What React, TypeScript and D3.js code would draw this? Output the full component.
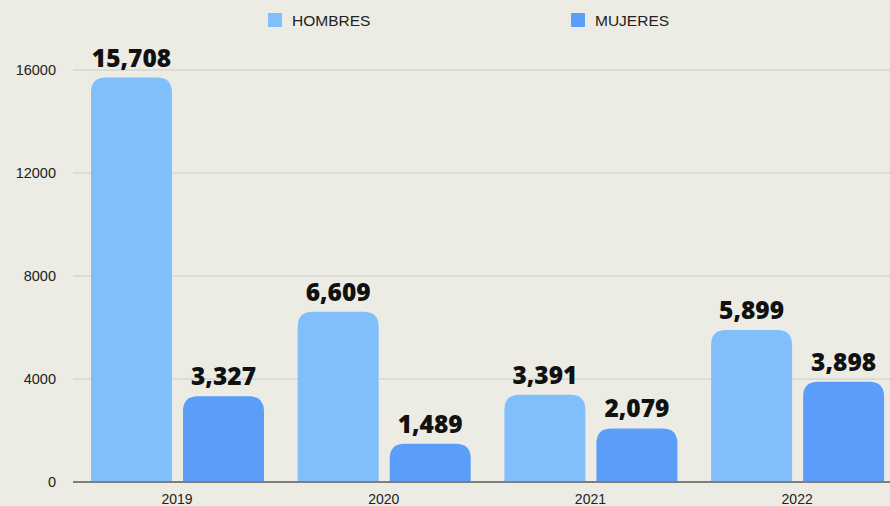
import React, { useEffect, useRef } from "react";
import * as d3 from "d3";

const years = ["2019", "2020", "2021", "2022"];
const seriesNames = ["HOMBRES", "MUJERES"];
const hombres = [15708, 6609, 3391, 5899];
const mujeres = [3327, 1489, 2079, 3898];
const yTicks = [0, 4000, 8000, 12000, 16000];
const colors = ["#80BEFC", "#5A9EFA"];

const W = 890;
const H = 506;

function topRoundedRect(x: number, y: number, w: number, h: number, r: number) {
  const rr = Math.min(r, w / 2, h);
  return `M${x},${y + h}V${y + rr}Q${x},${y} ${x + rr},${y}H${x + w - rr}Q${x + w},${y} ${x + w},${y + rr}V${y + h}Z`;
}

export default function App() {
  const ref = useRef<SVGSVGElement>(null);

  useEffect(() => {
    document.body.style.margin = "0";
    const svg = d3.select(ref.current);
    svg.selectAll("*").remove();

    const x0 = d3.scaleBand().domain(years).range([73.7, 900.5]).paddingInner(0).paddingOuter(0);
    const x1 = d3.scaleBand().domain(seriesNames).range([17.3, 190.3]).paddingInner(0.12).paddingOuter(0);
    const y = d3.scaleLinear().domain([0, 16000]).range([482, 70]);

    svg.append("rect").attr("width", W).attr("height", H).attr("fill", "#ECECE5");

    // gridlines
    svg.append("g")
      .selectAll("line")
      .data(yTicks.filter((t) => t > 0))
      .join("line")
      .attr("x1", 73)
      .attr("x2", W)
      .attr("y1", (d) => y(d))
      .attr("y2", (d) => y(d))
      .attr("stroke", "#D7D7D0")
      .attr("stroke-width", 1.5);

    // y labels
    svg.append("g")
      .selectAll("text")
      .data(yTicks)
      .join("text")
      .attr("x", 56)
      .attr("y", (d) => y(d))
      .attr("dy", "0.36em")
      .attr("text-anchor", "end")
      .attr("font-family", "Liberation Sans, Arial, sans-serif")
      .attr("font-size", 14.5)
      .attr("fill", "#222")
      .text((d) => String(d));

    const rows = years.map((yr, i) => ({ year: yr, values: [hombres[i], mujeres[i]] }));

    const groups = svg.append("g")
      .selectAll("g")
      .data(rows)
      .join("g")
      .attr("transform", (d) => `translate(${x0(d.year)},0)`);

    groups.selectAll("path")
      .data((d) => d.values.map((v, k) => ({ v, k })))
      .join("path")
      .attr("d", (d) => {
        const bx = x1(seriesNames[d.k])!;
        const bw = x1.bandwidth();
        return topRoundedRect(bx, y(d.v), bw, y(0) - y(d.v), 15);
      })
      .attr("fill", (d) => colors[d.k]);

    groups.selectAll("text")
      .data((d) => d.values.map((v, k) => ({ v, k })))
      .join("text")
      .attr("x", (d) => x1(seriesNames[d.k])! + x1.bandwidth() / 2)
      .attr("y", (d) => y(d.v) - 11)
      .attr("text-anchor", "middle")
      .attr("font-family", "Open Sans, sans-serif")
      .attr("font-weight", 800)
      .attr("font-size", 24.5)
      .attr("fill", "#111")
      .text((d) => d3.format(",")(d.v));

    // baseline
    svg.append("line")
      .attr("x1", 73)
      .attr("x2", W)
      .attr("y1", y(0))
      .attr("y2", y(0))
      .attr("stroke", "#7E7E7E")
      .attr("stroke-width", 2);

    // x labels
    svg.append("g")
      .selectAll("text")
      .data(years)
      .join("text")
      .attr("x", (d) => x0(d)! + x0.bandwidth() / 2)
      .attr("y", 504)
      .attr("text-anchor", "middle")
      .attr("font-family", "Liberation Sans, Arial, sans-serif")
      .attr("font-size", 14)
      .attr("fill", "#222")
      .text((d) => d);

    // legend
    const legendX = [268, 571];
    const leg = svg.append("g")
      .selectAll("g")
      .data(seriesNames)
      .join("g")
      .attr("transform", (_d, i) => `translate(${legendX[i]},13)`);
    leg.append("rect").attr("width", 14).attr("height", 14).attr("fill", (_d, i) => colors[i]);
    leg.append("text")
      .attr("x", 24)
      .attr("y", 7)
      .attr("dy", "0.36em")
      .attr("font-family", "Liberation Sans, Arial, sans-serif")
      .attr("font-size", 15.5)
      .attr("fill", "#222")
      .text((d) => d);
  }, []);

  return (
    <svg
      ref={ref}
      width={W}
      height={H}
      style={{ position: "absolute", left: 0, top: 0, display: "block" }}
    />
  );
}
